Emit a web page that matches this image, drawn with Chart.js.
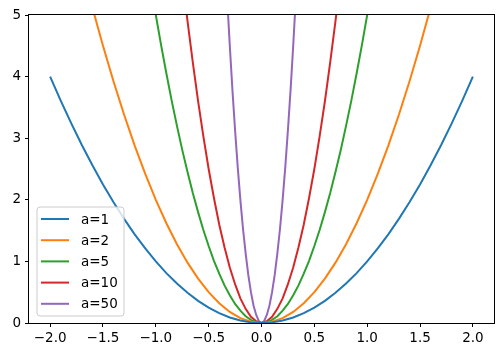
<!DOCTYPE html>
<html>
<head>
<meta charset="utf-8">
<script src="https://cdn.jsdelivr.net/npm/chart.js@4/dist/chart.umd.min.js"></script>
<style>
html,body{margin:0;padding:0;background:#fff;}
#wrap{width:503px;height:357px;position:relative;}
</style>
</head>
<body>
<div id="wrap"><canvas id="c" width="503" height="357"></canvas></div>
<script>
// ---- data ----
const seriesLabels = ['a=1', 'a=2', 'a=5', 'a=10', 'a=50'];
const seriesColors = ['#1f77b4', '#ff7f0e', '#2ca02c', '#d62728', '#9467bd'];

const xA1 = [-2.0,-1.9,-1.8,-1.7,-1.6,-1.5,-1.4,-1.3,-1.2,-1.1,-1.0,-0.9,-0.8,-0.7,-0.6,-0.5,-0.4,-0.3,-0.2,-0.1,0,
             0.1,0.2,0.3,0.4,0.5,0.6,0.7,0.8,0.9,1.0,1.1,1.2,1.3,1.4,1.5,1.6,1.7,1.8,1.9,2.0];
const yA1 = [4,3.61,3.24,2.89,2.56,2.25,1.96,1.69,1.44,1.21,1,0.81,0.64,0.49,0.36,0.25,0.16,0.09,0.04,0.01,0,
             0.01,0.04,0.09,0.16,0.25,0.36,0.49,0.64,0.81,1,1.21,1.44,1.69,1.96,2.25,2.56,2.89,3.24,3.61,4];

const xA2 = [-1.6,-1.5,-1.4,-1.3,-1.2,-1.1,-1.0,-0.9,-0.8,-0.7,-0.6,-0.5,-0.4,-0.3,-0.2,-0.1,0,
             0.1,0.2,0.3,0.4,0.5,0.6,0.7,0.8,0.9,1.0,1.1,1.2,1.3,1.4,1.5,1.6];
const yA2 = [5.12,4.5,3.92,3.38,2.88,2.42,2,1.62,1.28,0.98,0.72,0.5,0.32,0.18,0.08,0.02,0,
             0.02,0.08,0.18,0.32,0.5,0.72,0.98,1.28,1.62,2,2.42,2.88,3.38,3.92,4.5,5.12];

const xA5 = [-1.05,-1.0,-0.95,-0.9,-0.85,-0.8,-0.75,-0.7,-0.65,-0.6,-0.55,-0.5,-0.45,-0.4,-0.35,-0.3,-0.25,-0.2,-0.15,-0.1,-0.05,0,
             0.05,0.1,0.15,0.2,0.25,0.3,0.35,0.4,0.45,0.5,0.55,0.6,0.65,0.7,0.75,0.8,0.85,0.9,0.95,1.0,1.05];
const yA5 = [5.51,5,4.51,4.05,3.61,3.2,2.81,2.45,2.11,1.8,1.51,1.25,1.01,0.8,0.61,0.45,0.31,0.2,0.11,0.05,0.01,0,
             0.01,0.05,0.11,0.2,0.31,0.45,0.61,0.8,1.01,1.25,1.51,1.8,2.11,2.45,2.81,3.2,3.61,4.05,4.51,5,5.51];

const xA10 = [-0.75,-0.7,-0.65,-0.6,-0.55,-0.5,-0.45,-0.4,-0.35,-0.3,-0.25,-0.2,-0.15,-0.1,-0.05,0,
              0.05,0.1,0.15,0.2,0.25,0.3,0.35,0.4,0.45,0.5,0.55,0.6,0.65,0.7,0.75];
const yA10 = [5.63,4.9,4.23,3.6,3.03,2.5,2.03,1.6,1.23,0.9,0.63,0.4,0.23,0.1,0.03,0,
              0.03,0.1,0.23,0.4,0.63,0.9,1.23,1.6,2.03,2.5,3.03,3.6,4.23,4.9,5.63];

const xA50 = [-0.35,-0.325,-0.3,-0.275,-0.25,-0.225,-0.2,-0.175,-0.15,-0.125,-0.1,-0.075,-0.05,-0.025,0,
              0.025,0.05,0.075,0.1,0.125,0.15,0.175,0.2,0.225,0.25,0.275,0.3,0.325,0.35];
const yA50 = [6.13,5.28,4.5,3.78,3.13,2.53,2,1.53,1.13,0.78,0.5,0.28,0.13,0.03,0,
              0.03,0.13,0.28,0.5,0.78,1.13,1.53,2,2.53,3.13,3.78,4.5,5.28,6.13];

const xTicks = [-2.0,-1.5,-1.0,-0.5,0.0,0.5,1.0,1.5,2.0];
const yTicks = [0,1,2,3,4,5];

// ---- chart ----
const xs = [xA1, xA2, xA5, xA10, xA50];
const ys = [yA1, yA2, yA5, yA10, yA50];
const datasets = seriesLabels.map((lab, i) => ({
  label: lab,
  data: xs[i].map((x, j) => ({x: x, y: ys[i][j]})),
  borderColor: seriesColors[i],
  backgroundColor: seriesColors[i],
  borderWidth: 2,
  pointRadius: 0,
  tension: 0,
  fill: false,
  clip: 0
}));

const FONT = 'DejaVu Sans';
Chart.defaults.font.family = FONT;
Chart.defaults.font.size = 13.5;
Chart.defaults.color = '#000';

const framePlugin = {
  id: 'frame',
  afterDatasetsDraw(chart) {
    const {ctx, chartArea: a} = chart;
    ctx.save();
    ctx.strokeStyle = '#000';
    ctx.lineWidth = 1;
    ctx.strokeRect(Math.round(a.left) - 0.5, Math.round(a.top) - 0.5,
                   Math.round(a.right - a.left) + 1, Math.round(a.bottom - a.top) + 1);
    ctx.restore();
  },
  afterDraw(chart) {
    // legend, lower left inside the axes
    const ctx = chart.ctx;
    const a = chart.chartArea;
    const bx = a.left + 8, by = a.bottom - 116, bw = 87, bh = 109, r = 3;
    ctx.save();
    ctx.beginPath();
    ctx.moveTo(bx + r, by);
    ctx.arcTo(bx + bw, by, bx + bw, by + bh, r);
    ctx.arcTo(bx + bw, by + bh, bx, by + bh, r);
    ctx.arcTo(bx, by + bh, bx, by, r);
    ctx.arcTo(bx, by, bx + bw, by, r);
    ctx.closePath();
    ctx.fillStyle = 'rgba(255,255,255,0.8)';
    ctx.fill();
    ctx.strokeStyle = '#cccccc';
    ctx.lineWidth = 1;
    ctx.stroke();
    ctx.font = '13.5px "' + FONT + '"';
    ctx.textBaseline = 'middle';
    ctx.textAlign = 'left';
    chart.data.datasets.forEach((ds, i) => {
      const yy = by + 12 + i * 21.2;
      ctx.strokeStyle = ds.borderColor;
      ctx.lineWidth = 2;
      ctx.beginPath();
      ctx.moveTo(bx + 4, yy);
      ctx.lineTo(bx + 32, yy);
      ctx.stroke();
      ctx.fillStyle = '#000';
      ctx.fillText(ds.label, bx + 44, yy + 1);
    });
    ctx.restore();
  }
};

new Chart(document.getElementById('c'), {
  type: 'line',
  data: {datasets},
  options: {
    responsive: false,
    animation: false,
    events: [],
    layout: {padding: {top: 15, right: 9, left: 0, bottom: 0}},
    plugins: {legend: {display: false}, tooltip: {enabled: false}},
    scales: {
      x: {
        type: 'linear',
        min: -2.2, max: 2.2,
        afterBuildTicks: (s) => { s.ticks = xTicks.map(v => ({value: v})); },
        afterFit: (s) => { s.height = 34; },
        border: {display: false},
        grid: {display: true, drawOnChartArea: false, drawTicks: true, tickLength: 4, color: '#000', lineWidth: 1},
        ticks: {
          padding: 3,
          maxRotation: 0,
          autoSkip: false,
          callback: (v) => (v < 0 ? '\u2212' + Math.abs(v).toFixed(1) : v.toFixed(1))
        }
      },
      y: {
        type: 'linear',
        min: 0, max: 5,
        afterBuildTicks: (s) => { s.ticks = yTicks.map(v => ({value: v})); },
        afterFit: (s) => { s.width = 29; },
        border: {display: false},
        grid: {display: true, drawOnChartArea: false, drawTicks: true, tickLength: 4, color: '#000', lineWidth: 1},
        ticks: {
          padding: 4,
          autoSkip: false,
          callback: (v) => String(v)
        }
      }
    }
  },
  plugins: [framePlugin]
});
</script>
</body>
</html>
